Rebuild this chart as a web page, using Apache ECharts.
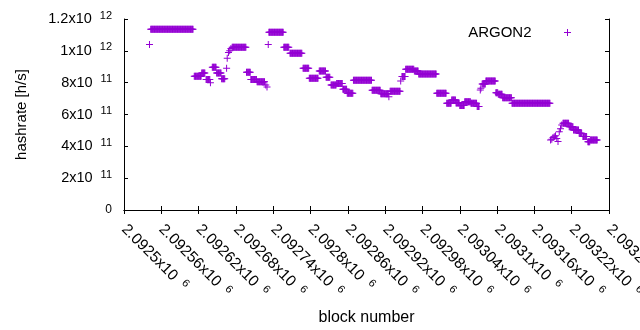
<!DOCTYPE html>
<html>
<head>
<meta charset="utf-8">
<script src="https://cdn.jsdelivr.net/npm/echarts@6.0.0/dist/echarts.min.js"></script>
<style>
  html, body { margin: 0; padding: 0; background: #fff; }
  #chart { width: 640px; height: 330px; }
</style>
</head>
<body>
<div id="chart"></div>
<script>
// runs of blocks with the same hashrate estimate (first block, last block, value)
const blockStart = [
  2092541, 2092543, 2092613, 2092625, 2092632, 2092639, 2092642, 2092649, 2092657, 2092665,
  2092666, 2092668, 2092670, 2092672, 2092674, 2092697, 2092704, 2092714, 2092728, 2092730,
  2092732, 2092733, 2092757, 2092767, 2092788, 2092798, 2092814, 2092825, 2092833, 2092842,
  2092852, 2092859, 2092869, 2092899, 2092913, 2092926, 2092928, 2092945, 2092947, 2092953,
  2092967, 2092974, 2093003, 2093019, 2093027, 2093034, 2093040, 2093048, 2093058, 2093068,
  2093073, 2093074, 2093076, 2093082, 2093098, 2093102, 2093109, 2093124, 2093186, 2093188,
  2093190, 2093192, 2093194, 2093196, 2093198, 2093200, 2093202, 2093204, 2093206, 2093216,
  2093223, 2093232, 2093238, 2093246, 2093250
];
const blockEnd = [
  2092541, 2092611, 2092624, 2092630, 2092638, 2092639, 2092648, 2092656, 2092662, 2092665,
  2092666, 2092668, 2092670, 2092672, 2092696, 2092703, 2092713, 2092726, 2092728, 2092730,
  2092732, 2092756, 2092765, 2092786, 2092797, 2092812, 2092824, 2092831, 2092841, 2092851,
  2092858, 2092868, 2092898, 2092912, 2092925, 2092926, 2092944, 2092945, 2092952, 2092966,
  2092973, 2093002, 2093018, 2093026, 2093033, 2093039, 2093047, 2093057, 2093067, 2093071,
  2093073, 2093074, 2093081, 2093097, 2093101, 2093108, 2093123, 2093185, 2093186, 2093188,
  2093190, 2093192, 2093194, 2093196, 2093198, 2093200, 2093202, 2093204, 2093215, 2093222,
  2093231, 2093236, 2093244, 2093249, 2093261
];
const hashrate = [
  1.04e12, 1.135e12, 8.4e11, 8.6e11, 8.2e11, 8.0e11, 8.97e11, 8.6e11, 8.25e11, 8.9e11,
  9.53e11, 9.9e11, 1.0e12, 1.015e12, 1.022e12, 8.65e11, 8.2e11, 8.05e11, 7.85e11, 7.72e11,
  1.04e12, 1.117e12, 1.022e12, 9.85e11, 8.9e11, 8.27e11, 8.73e11, 8.34e11, 7.85e11, 7.95e11,
  7.58e11, 7.33e11, 8.15e11, 7.52e11, 7.31e11, 7.12e11, 7.46e11, 8.1e11, 8.38e11, 8.84e11,
  8.73e11, 8.55e11, 7.33e11, 6.7e11, 6.91e11, 6.72e11, 6.57e11, 6.8e11, 6.7e11, 6.5e11,
  7.54e11, 7.65e11, 7.92e11, 8.1e11, 7.37e11, 7.27e11, 7.05e11, 6.7e11, 4.4e11, 4.45e11,
  4.55e11, 4.6e11, 4.67e11, 4.5e11, 4.3e11, 4.92e11, 5.1e11, 5.34e11, 5.45e11, 5.23e11,
  5.03e11, 4.82e11, 4.61e11, 4.29e11, 4.4e11
];

const seriesName = "ARGON2";
const xMin = 2092500, xMax = 2093280, xStep = 60;
const yMin = 0, yMax = 1.2e12, yStep = 2e11;

// one point per block
let points = [];
for (let i = 0; i < blockStart.length; i++) {
  for (let b = blockStart[i]; b <= blockEnd[i]; b++) {
    points.push([b, hashrate[i]]);
  }
}

const plus = "path://M3,0H4V3H7V4H4V7H3V4H0V3H3Z";
const violet = "#9400d3";
const font = "Liberation Sans, Arial, sans-serif";

// "1.2x10^12" style labels
function sci(v, exp) {
  if (v === 0) return "0";
  let m = parseFloat((v / Math.pow(10, exp)).toFixed(6)).toString();
  return "{b|" + m + "x10}{e|" + exp + "}";
}
function richFor(size) {
  return {
    b: { fontSize: size, lineHeight: 18, fontFamily: font, color: "#000" },
    e: { fontSize: 11, lineHeight: 11, verticalAlign: "top", padding: [0, 0, 0, 8], fontFamily: font, color: "#000" }
  };
}

const tickIn = { show: true, inside: true, length: 4, lineStyle: { color: "#000", width: 1 } };
const blackLine = { show: true, lineStyle: { color: "#000", width: 1 } };

var chart = echarts.init(document.getElementById("chart"), null, { renderer: "canvas" });
chart.setOption({
  animation: false,
  backgroundColor: "#fff",
  textStyle: { fontFamily: font },
  grid: { left: 124, right: 31, top: 19, bottom: 120, show: false, outerBoundsMode: "none", containLabel: false },
  legend: {
    data: [{ name: seriesName, icon: plus }],
    right: 64, top: 20,
    align: "right",
    itemWidth: 62, itemHeight: 7,
    textStyle: { fontSize: 15, color: "#000", fontFamily: font }
  },
  xAxis: [
    {
      type: "value", min: xMin, max: xMax, interval: xStep,
      name: "block number", nameLocation: "middle", nameGap: 100,
      nameTextStyle: { fontSize: 16, color: "#000", fontFamily: font },
      axisLine: blackLine, axisTick: tickIn, splitLine: { show: false },
      axisLabel: {
        rotate: -45, margin: 17, color: "#000",
        formatter: (v) => sci(v, 6), rich: richFor(15.5),
        showMinLabel: true, showMaxLabel: true
      }
    },
    {
      type: "value", min: xMin, max: xMax, interval: xStep, position: "top",
      axisLine: blackLine, axisTick: tickIn, axisLabel: { show: false }, splitLine: { show: false }
    }
  ],
  yAxis: [
    {
      type: "value", min: yMin, max: yMax, interval: yStep,
      name: "hashrate [h/s]", nameLocation: "middle", nameGap: 95,
      nameTextStyle: { fontSize: 15, color: "#000", fontFamily: font },
      axisLine: blackLine, axisTick: tickIn, splitLine: { show: false },
      axisLabel: {
        margin: 12, color: "#000",
        formatter: (v) => sci(v, v >= 1e12 ? 12 : 11), rich: richFor(14.5)
      }
    },
    {
      type: "value", min: yMin, max: yMax, interval: yStep, position: "right",
      axisLine: blackLine, axisTick: tickIn, axisLabel: { show: false }, splitLine: { show: false }
    }
  ],
  series: [
    {
      name: seriesName,
      type: "scatter",
      symbol: plus,
      symbolSize: 7,
      itemStyle: { color: violet, opacity: 1 },
      data: points
    }
  ]
});
</script>
</body>
</html>
